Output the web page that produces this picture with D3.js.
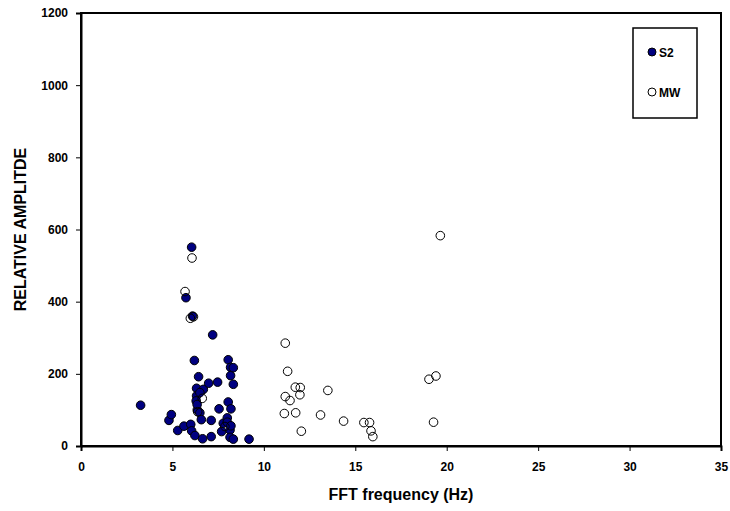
<!DOCTYPE html>
<html><head><meta charset="utf-8">
<script src="https://cdn.jsdelivr.net/npm/d3@7"></script>
<style>body{margin:0;background:#fff}svg{display:block;font-family:Arial,"Liberation Sans",sans-serif}</style>
</head><body>
<svg id="c" width="730" height="511"></svg>
<script>
const s2Freq = [3.26,4.81,4.94,5.29,5.63,5.74,6.0,6.05,6.05,6.1,6.2,6.23,6.32,6.32,6.3,6.36,6.5,6.43,6.58,6.65,6.69,6.98,7.12,7.12,7.2,7.47,7.55,7.69,7.78,8.0,8.0,8.05,8.05,8.15,8.15,8.18,8.18,8.2,8.2,8.33,8.33,8.33,9.19,6.35,6.5];
const s2Amp  = [113,71,87,43,55,411,60,551,42,360,237,29,160,139,125,100,92,192,73,20,157,174,71,26,308,177,103,40,63,78,66,239,122,44,24,218,195,103,56,217,171,19,19,115,148];
const mwFreq = [6.07,5.69,5.98,6.15,6.63,6.38,7.87,11.17,11.3,11.72,11.99,11.97,11.17,11.43,13.5,11.12,11.74,13.1,12.05,14.36,15.47,15.78,15.86,15.96,19.03,19.41,19.28,19.65];
const mwAmp  = [521,428,354,358,132,95,54,285,207,163,162,142,137,126,154,90,92,86,41,69,65,65,42,26,185,194,66,583];
const xTicks = [0,5,10,15,20,25,30,35];
const yTicks = [0,200,400,600,800,1000,1200];
const seriesNames = ["S2","MW"];

const svg = d3.select("#c");
const L=81, R=721, T=13, B=446;
const x = d3.scaleLinear().domain([0,35]).range([L,R]);
const y = d3.scaleLinear().domain([0,1200]).range([B,T]);

// frame
svg.append("rect").attr("x",L).attr("y",T).attr("width",R-L).attr("height",B-T)
  .attr("fill","none").attr("stroke","#000").attr("stroke-width",2);

const xAxis = svg.append("g").attr("transform",`translate(0,${B})`)
  .call(d3.axisBottom(x).tickValues(xTicks).tickSize(5).tickPadding(11).tickFormat(d3.format("d")));
const yAxis = svg.append("g").attr("transform",`translate(${L},0)`)
  .call(d3.axisLeft(y).tickValues(yTicks).tickSize(5).tickPadding(8).tickFormat(d3.format("d")));
[xAxis,yAxis].forEach(a=>{
  a.select(".domain").attr("stroke","#000").attr("stroke-width",2);
  a.selectAll(".tick line").attr("stroke","#000").attr("stroke-width",1);
  a.selectAll("text").attr("font-size",12).attr("font-weight","bold").attr("fill","#000")
   .attr("font-family","Arial, 'Liberation Sans', sans-serif");
});

// points
const s2 = s2Freq.map((f,i)=>({f,a:s2Amp[i]}));
const mw = mwFreq.map((f,i)=>({f,a:mwAmp[i]}));
svg.append("g").selectAll("circle").data(s2).join("circle")
  .attr("cx",d=>x(d.f)).attr("cy",d=>y(d.a)).attr("r",4.3)
  .attr("fill","#000080").attr("stroke","#000").attr("stroke-width",1);
svg.append("g").selectAll("circle").data(mw).join("circle")
  .attr("cx",d=>x(d.f)).attr("cy",d=>y(d.a)).attr("r",4.3)
  .attr("fill","none").attr("stroke","#000").attr("stroke-width",1);

// axis titles
svg.append("text").attr("x",(L+R)/2).attr("y",500).attr("text-anchor","middle")
  .attr("font-size",16).attr("font-weight","bold").text("FFT frequency (Hz)");
svg.append("text").attr("transform",`translate(26,${(T+B)/2}) rotate(-90)`).attr("text-anchor","middle")
  .attr("font-size",16).attr("font-weight","bold").text("RELATIVE AMPLITDE");

// legend
const lg = svg.append("g");
lg.append("rect").attr("x",633).attr("y",28).attr("width",64).attr("height",90)
  .attr("fill","#fff").attr("stroke","#000").attr("stroke-width",1.5);
const lgY=[52,92];
lg.selectAll("circle").data(seriesNames).join("circle")
  .attr("cx",652).attr("cy",(d,i)=>lgY[i]).attr("r",4)
  .attr("fill",(d,i)=>i===0?"#000080":"#fff").attr("stroke","#000").attr("stroke-width",1);
lg.selectAll("text").data(seriesNames).join("text")
  .attr("x",659).attr("y",(d,i)=>lgY[i]+4.5).attr("font-size",12).attr("font-weight","bold").text(d=>d);
</script>
</body></html>
